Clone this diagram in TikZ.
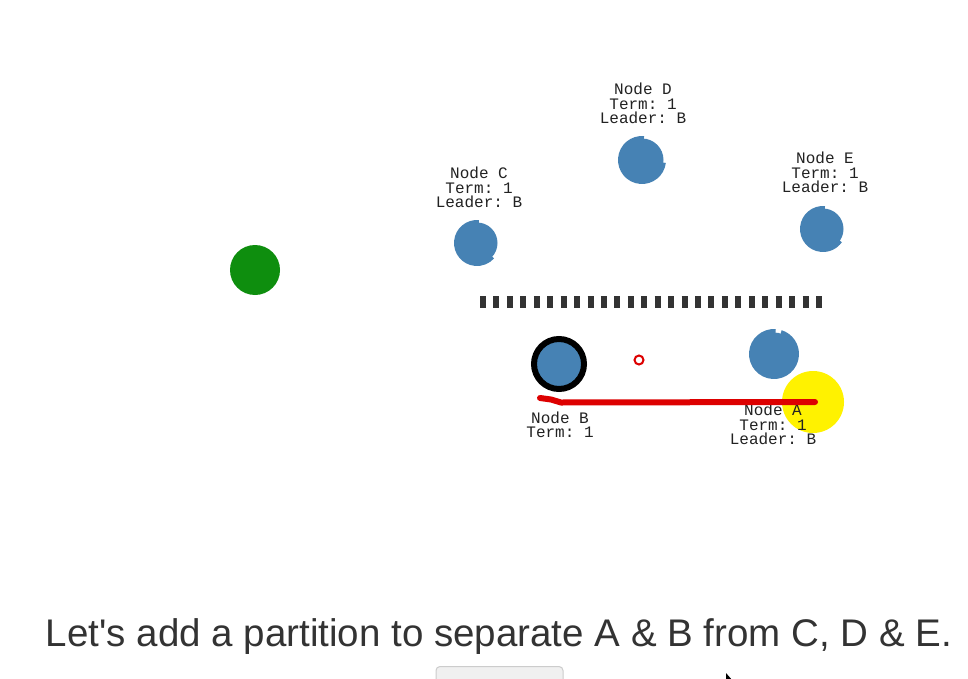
\documentclass[tikz,border=0pt]{standalone}
\usepackage{fontspec}
\setmainfont{Liberation Sans}
\setmonofont{Liberation Mono}
\newfontfamily\capfont{Liberation Sans}[Ligatures=TeXOff]
\definecolor{nodeblue}{HTML}{4682B4}
\definecolor{leafgreen}{HTML}{0E8E0E}
\definecolor{msgred}{HTML}{DD0000}
\definecolor{wallgray}{HTML}{333333}
\definecolor{txtgray}{HTML}{333333}
\definecolor{labelcol}{HTML}{222222}
\tikzset{
  lbl/.style={font=\fontsize{16}{14.5}\selectfont\ttfamily, text=labelcol, align=center, inner sep=0pt},
  dot/.style={circle, inner sep=0pt, minimum size=#1},
}
\newcommand{\notchnode}[7]{% name, x, y, r, start, end, depth (page angles, full-radius arc from start ccw to end)
  \coordinate (#1) at (#2,#3);
  \fill[nodeblue] (#1) circle[radius=#4-#7];
  \fill[nodeblue] (#1) -- ++(-#5:#4) arc[start angle=-#5, end angle=-#6, radius=#4] -- cycle;
}
\begin{document}
\begin{tikzpicture}[x=1pt,y=-1pt]
\useasboundingbox (0,0) rectangle (968,679);
\clip (0,0) rectangle (968,679);
\fill[white] (0,0) rectangle (968,679);

% green node
\node[dot=50pt, fill=leafgreen] (green) at (255,270) {};

% notched nodes (progress arcs)
\notchnode{C}{477}{243}{23}{85}{318}{2.5}
\notchnode{D}{642}{160}{24}{85}{353}{2.5}
\notchnode{E}{823}{229}{23}{85}{325}{2.5}
\notchnode{A}{774}{354}{25}{86}{432}{3.5}

% labels
\node[lbl] (Clbl) at (479,187.5) {Node C\\Term: 1\\Leader: B};
\node[lbl] (Dlbl) at (643,103.5) {Node D\\Term: 1\\Leader: B};
\node[lbl] (Elbl) at (825,172.5) {Node E\\Term: 1\\Leader: B};

% partition
\coordinate (pL) at (480,302);
\coordinate (pR) at (822,302);
\draw[wallgray, line width=12pt, dash pattern=on 6pt off 7.44pt] (pL) -- (pR);

% node B (leader)
\node[dot=50pt, fill=nodeblue, draw=black, line width=6pt] (B) at (559,364) {};
\node[lbl] (Blbl) at (560,425) {Node B\\Term: 1};

% small message circle
\node[dot=9pt, draw=msgred, line width=2pt] (msg) at (639,360) {};

% yellow highlight
\node[dot=62pt, fill=yellow] (hl) at (813,402) {};

% node A label
\node[lbl] (Albl) at (773,424.5) {Node A\\Term: 1\\Leader: B};

% red stroke
\coordinate (r0) at (540,398);
\coordinate (r1) at (551,399.5);
\coordinate (r2) at (561,402.5);
\coordinate (r3) at (815,402);
\draw[msgred, line width=6pt, line cap=round, line join=round] (r0) -- (r1) -- (r2) -- (r3);

% caption
\node[anchor=base, inner sep=0pt, text=txtgray, font=\capfont\fontsize{38.5}{46}\selectfont] (cap) at (499,646) {Let's add a partition to separate A \& B from C, D \& E.};

% button
\coordinate (bt0) at (436,666.5);
\coordinate (bt1) at (563,700);
\draw[draw=black!20, fill=black!6, line width=1pt, rounded corners=4pt] (bt0) rectangle (bt1);

% cursor
\coordinate (cur) at (726,673);
\fill[black] (cur) -- ++(0,10) -- ++(2.5,-2.5) -- ++(4,0) -- cycle;
\end{tikzpicture}
\end{document}
